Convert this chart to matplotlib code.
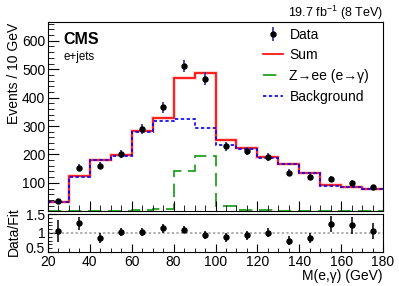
import numpy as np
import matplotlib
matplotlib.use("Agg")
import matplotlib.pyplot as plt
import matplotlib.transforms as mtransforms
from matplotlib.lines import Line2D
from matplotlib.ticker import MultipleLocator

plt.rcParams['font.family'] = ['Liberation Sans', 'DejaVu Sans']
plt.rcParams['mathtext.fontset'] = 'custom'
plt.rcParams['mathtext.rm'] = 'Liberation Sans'

edges = [20, 30, 40, 50, 60, 70, 80, 90, 100, 110, 120, 130, 140, 150, 160, 170, 180]
centers = [25, 35, 45, 55, 65, 75, 85, 95, 105, 115, 125, 135, 145, 155, 165, 175]
data = [35, 153, 161, 202, 290, 366, 512, 467, 228, 212, 190, 136, 120, 113, 100, 84]
data_err = [6, 12, 13, 14, 17, 19, 22, 22, 15, 15, 14, 12, 11, 11, 10, 9]
background = [33, 122, 180, 195, 278, 319, 326, 292, 234, 218, 188, 165, 134, 90, 84, 78]
zee = [1, 1, 1, 2, 3, 8, 142, 196, 18, 6, 3, 2, 1, 1, 1, 1]
ratio = [1.06, 1.26, 0.87, 1.03, 1.03, 1.12, 1.09, 0.955, 0.89, 0.945, 1.01, 0.80, 0.88, 1.24, 1.20, 1.06]
ratio_err = [0.29, 0.17, 0.12, 0.11, 0.11, 0.11, 0.09, 0.10, 0.12, 0.12, 0.11, 0.11, 0.13, 0.21, 0.22, 0.21]

total = np.array(background) + np.array(zee)

W, H = 399, 286
fig = plt.figure(figsize=(W / 100, H / 100), dpi=100)
ax = fig.add_axes([48 / W, 1 - 211 / H, 335 / W, (211 - 22.3) / H])
rx = fig.add_axes([48 / W, 1 - 252 / H, 335 / W, (252 - 214) / H])

# main panel
ax.stairs(total, edges, color='#ffaaaa', lw=2.6, alpha=0.6, baseline=None)
ax.stairs(total, edges, color='#ff0000', lw=1.2, baseline=None)
ax.stairs(zee, edges, color='#119911', lw=1.2, ls=(0, (8, 4)), baseline=None)
ax.stairs(background, edges, color='#0000ff', lw=1.2, ls=(0, (2, 1.5)), baseline=None)
ax.errorbar(centers, data, yerr=data_err, fmt='o', color='black', ms=3.6,
            ecolor='#3a3aa8', elinewidth=1.3, capsize=0, zorder=5)

ax.set_xlim(20, 180)
ax.set_ylim(1, 665)
ax.set_yticks([100, 200, 300, 400, 500, 600])
ax.yaxis.set_minor_locator(MultipleLocator(20))
ax.xaxis.set_major_locator(MultipleLocator(20))
ax.xaxis.set_minor_locator(MultipleLocator(5))
ax.tick_params(axis='both', which='both', direction='in', labelsize=10)
ax.tick_params(axis='y', which='major', length=8, pad=2)
ax.tick_params(axis='y', which='minor', length=4)
ax.tick_params(axis='x', which='major', length=7, labelbottom=False)
ax.tick_params(axis='x', which='minor', length=4)

dh = ax.errorbar([], [], yerr=[], fmt='o', color='black', ms=3.6, ecolor='#3a3aa8', elinewidth=1.3)
handles = [
    dh,
    Line2D([], [], color='#ff0000', lw=1.2),
    Line2D([], [], color='#119911', lw=1.2, ls=(0, (8, 4))),
    Line2D([], [], color='#0000ff', lw=1.2, ls=(0, (2, 1.5))),
]
labels = ['Data', 'Sum', 'Z\u2192ee (e\u2192\u03b3)', 'Background']
ax.legend(handles, labels, loc='upper left', bbox_to_anchor=(0.642, 0.972),
          frameon=False, fontsize=10, borderpad=0, borderaxespad=0,
          handlelength=1.45, handletextpad=0.45, labelspacing=0.48)

fig.text(63 / W, 1 - 44 / H, 'CMS', fontsize=11.5, fontweight='bold', ha='left', va='baseline')
fig.text(63 / W, 1 - 60 / H, 'e+jets', fontsize=8.3, ha='left', va='baseline')
fig.text(383 / W, 1 - 17 / H, r'19.7 fb$^{-1}$ (8 TeV)', fontsize=9, ha='right', va='baseline')
fig.text(14 / W, 1 - 23 / H, 'Events / 10 GeV', rotation=90, fontsize=10, ha='center', va='top')

# ratio panel
rx.axhline(1.0, color='#999999', ls=(0, (1.5, 1.5)), lw=1.1)
rx.errorbar(centers, ratio, yerr=ratio_err, fmt='o', color='black', ms=3.6,
            ecolor='black', elinewidth=1.1, capsize=0, zorder=5)
rx.set_xlim(20, 180)
rx.set_ylim(0.5, 1.5)
rx.set_yticks([0.5, 1.0, 1.5])
rx.set_yticklabels(['0.5', '1', '1.5'])
rx.yaxis.set_minor_locator(MultipleLocator(0.1))
rx.xaxis.set_major_locator(MultipleLocator(20))
rx.xaxis.set_minor_locator(MultipleLocator(5))
rx.tick_params(axis='both', which='both', direction='in', labelsize=10)
rx.tick_params(axis='y', which='major', length=6, pad=2)
rx.tick_params(axis='y', which='minor', length=3)
rx.tick_params(axis='x', which='major', length=6, pad=2)
rx.tick_params(axis='x', which='minor', length=3)

# nudge the lowest ratio label slightly upward (as in reference, it sits above "20")
off = mtransforms.ScaledTranslation(0, 3 / 72, fig.dpi_scale_trans)
lab0 = rx.get_yticklabels()[0]
lab0.set_transform(lab0.get_transform() + off)

fig.text(14 / W, 1 - 232 / H, 'Data/Fit', rotation=90, fontsize=10, ha='center', va='center')
fig.text(383 / W, 1 - 276 / H, 'M(e,\u03b3) (GeV)', fontsize=10, ha='right', va='center')

fig.savefig('out.png', dpi=100)
